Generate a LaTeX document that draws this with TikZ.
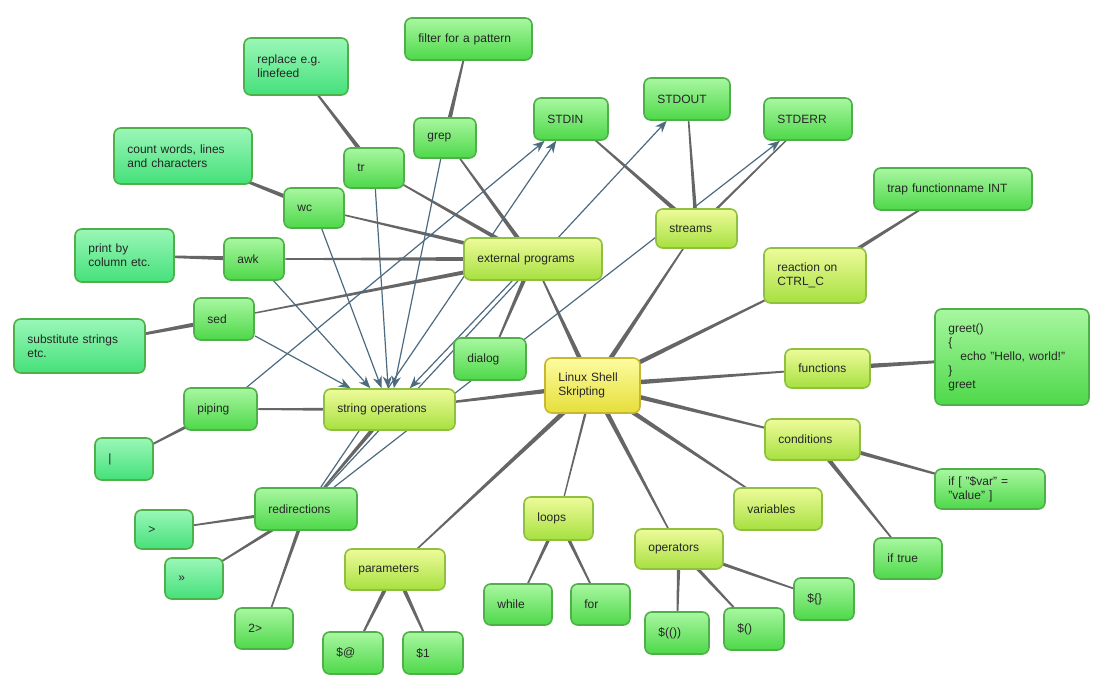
\documentclass[tikz,border=0pt]{standalone}
\usepackage{fontspec}
\setmainfont{Liberation Sans}
\usetikzlibrary{calc,arrows.meta,backgrounds}
\definecolor{gtop}{HTML}{A8F7A0}\definecolor{gbot}{HTML}{4ED84A}\definecolor{gbor}{HTML}{4FB04A}
\definecolor{mtop}{HTML}{9AF7B8}\definecolor{mbot}{HTML}{45E07A}
\definecolor{ytop}{HTML}{EEFB9A}\definecolor{ybot}{HTML}{A6E040}\definecolor{ybor}{HTML}{90C040}
\definecolor{ctop}{HTML}{FCFCA0}\definecolor{cbot}{HTML}{E6DE3A}\definecolor{cbor}{HTML}{C8B830}
\definecolor{edgec}{HTML}{666666}\definecolor{arrc}{HTML}{4D6B80}
\tikzset{
 base/.style={rounded corners=5pt, line width=1.2pt, inner xsep=10pt, inner ysep=2pt, align=left, font=\fontsize{9}{10.5}\selectfont, text=black!85},
 gbox/.style={base, draw=gbor, top color=gtop, bottom color=gbot},
 mbox/.style={base, draw=gbor, top color=mtop, bottom color=mbot},
 ybox/.style={base, draw=ybor, top color=ytop, bottom color=ybot},
 cbox/.style={base, draw=cbor, top color=ctop, bottom color=cbot},
 rel/.style={draw=arrc, line width=0.9pt, -{Stealth[length=9pt,width=7pt]}},
}
\newcommand\nd[7]{%
 \pgfmathsetmacro\nw{(#4-#2)*0.75}\pgfmathsetmacro\nh{(#5-#3)*0.75}\pgfmathsetmacro\tw{(#4-#2)*0.75-20}%
 \node[#6, minimum width=\nw pt, minimum height=\nh pt, text width=\tw pt] (#1) at ({(#2+#4)/2},{(#3+#5)/2}) {#7};}
\newcommand\tp[3]{%
 \fill[edgec] let \p1=($(#2)-(#1)$), \n1={atan2(\y1,\x1)} in
  ($(#1)+(\n1+90:#3)$) -- ($(#1)+(\n1-90:#3)$) -- ($(#2)+(\n1-90:0.4pt)$) -- ($(#2)+(\n1+90:0.4pt)$) -- cycle;}
\begin{document}
\begin{tikzpicture}[x=0.75pt,y=-0.75pt]
\useasboundingbox (0,0) rectangle (1099,685);
\nd{center}{545}{358}{640}{413}{cbox}{Linux Shell\\Skripting}
\nd{ext}{464}{238}{602}{280}{ybox}{external programs}
\nd{streams}{656}{209}{737}{248}{ybox}{streams}
\nd{strops}{324}{389}{455}{430}{ybox}{string operations}
\nd{reaction}{764}{248}{866}{303}{ybox}{reaction on\\CTRL\_C}
\nd{functions}{785}{349}{870}{388}{ybox}{functions}
\nd{conditions}{765}{419}{860}{460}{ybox}{conditions}
\nd{variables}{734}{488}{822}{530}{ybox}{variables}
\nd{operators}{635}{529}{723}{569}{ybox}{operators}
\nd{loops}{524}{497}{593}{540}{ybox}{loops}
\nd{parameters}{345}{549}{445}{590}{ybox}{parameters}
\nd{filter}{405}{18}{532}{60}{gbox}{filter for a pattern}
\nd{replace}{244}{38}{348}{95}{mbox}{replace e.g.\\linefeed}
\nd{grep}{414}{118}{476}{158}{gbox}{grep}
\nd{stdin}{534}{98}{608}{140}{gbox}{STDIN}
\nd{stdout}{644}{78}{730}{120}{gbox}{STDOUT}
\nd{stderr}{764}{98}{852}{140}{gbox}{STDERR}
\nd{tr}{344}{148}{404}{188}{gbox}{tr}
\nd{count}{114}{128}{252}{184}{mbox}{count words, lines\\and characters}
\nd{wc}{284}{188}{344}{228}{gbox}{wc}
\nd{trap}{874}{168}{1032}{210}{gbox}{trap functionname INT}
\nd{print}{75}{229}{174}{282}{mbox}{print by\\column etc.}
\nd{awk}{224}{238}{284}{280}{gbox}{awk}
\nd{sed}{194}{298}{254}{340}{gbox}{sed}
\nd{subst}{14}{319}{145}{373}{mbox}{substitute strings\\etc.}
\nd{dialog}{454}{338}{526}{380}{gbox}{dialog}
\nd{greet}{935}{309}{1089}{405}{gbox}{greet()\\\{\\\hspace*{1em}echo "Hello, world!"\\\}\\greet}
\nd{piping}{184}{388}{257}{430}{gbox}{piping}
\nd{bar}{95}{438}{153}{480}{mbox}{|}
\nd{redir}{255}{488}{357}{530}{gbox}{redirections}
\nd{gt}{135}{510}{193}{549}{mbox}{>}
\nd{gtgt}{165}{558}{223}{599}{mbox}{>>}
\nd{two}{235}{608}{293}{649}{gbox}{2>}
\nd{iftest}{935}{469}{1045}{509}{gbox}{if [ "\$var" = "value" ]}
\nd{iftrue}{874}{538}{942}{579}{gbox}{if true}
\nd{while}{484}{584}{552}{625}{gbox}{while}
\nd{for}{571}{584}{630}{625}{gbox}{for}
\nd{at}{323}{632}{383}{674}{gbox}{\$@}
\nd{one}{403}{632}{463}{674}{gbox}{\$1}
\nd{arith}{645}{612}{709}{654}{gbox}{\$(())}
\nd{cmd}{724}{608}{784}{650}{gbox}{\$()}
\nd{brace}{794}{578}{854}{620}{gbox}{\$\{\}}
\begin{scope}[on background layer]
\foreach \c in {ext,streams,reaction,functions,conditions,variables,operators,parameters,strops}{\tp{center}{\c}{2pt}}
\tp{center}{loops}{1pt}
\foreach \c in {grep,tr,wc,awk,sed,dialog}{\tp{ext}{\c}{1.8pt}}
\tp{grep}{filter}{1.8pt}\tp{tr}{replace}{1.8pt}\tp{wc}{count}{1.8pt}\tp{awk}{print}{1.8pt}\tp{sed}{subst}{1.8pt}
\tp{streams}{stdin}{1.8pt}\tp{streams}{stdout}{1.5pt}\tp{streams}{stderr}{1pt}
\tp{strops}{piping}{1.5pt}\tp{strops}{redir}{1.8pt}\tp{piping}{bar}{1.5pt}
\tp{redir}{gt}{1.5pt}\tp{redir}{gtgt}{1.5pt}\tp{redir}{two}{1.5pt}
\tp{parameters}{at}{1.8pt}\tp{parameters}{one}{1.8pt}
\tp{loops}{while}{1.5pt}\tp{loops}{for}{1.5pt}
\tp{operators}{arith}{1.5pt}\tp{operators}{cmd}{1.5pt}\tp{operators}{brace}{1.5pt}
\tp{conditions}{iftest}{1.8pt}\tp{conditions}{iftrue}{1.8pt}
\tp{functions}{greet}{2pt}\tp{reaction}{trap}{1.8pt}
\foreach \c in {sed,awk,wc,tr,grep,ext}{\draw[rel] (\c) -- (strops);}
\draw[rel] (piping) -- (stdin);
\draw[rel] (redir) -- (stdin);
\draw[rel] (redir) -- (stdout);
\draw[rel] (redir) -- (stderr);
\end{scope}
\end{tikzpicture}
\end{document}
